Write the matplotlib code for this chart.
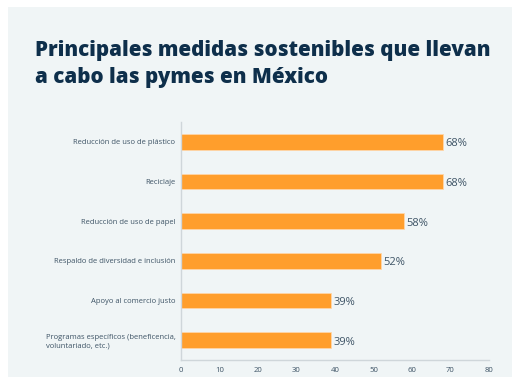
import matplotlib
matplotlib.use("Agg")
import matplotlib.pyplot as plt
from matplotlib.patches import Rectangle

categories = ["Reducción de uso de plástico", "Reciclaje", "Reducción de uso de papel",
              "Respaldo de diversidad e inclusión", "Apoyo al comercio justo",
              "Programas específicos (beneficencia,\nvoluntariado, etc.)"]
values = [68, 68, 58, 52, 39, 39]
xticks = [0, 10, 20, 30, 40, 50, 60, 70, 80]
title_lines = ["Principales medidas sostenibles que llevan", "a cabo las pymes en México"]

BG = "#f0f5f6"
ORANGE = "#ff9e2c"
NAVY = "#0e2f4b"
TEXT = "#3e5466"

plt.rcParams["font.family"] = ["Open Sans", "DejaVu Sans"]

fig = plt.figure(figsize=(5.12, 3.77), dpi=100)
fig.patch.set_facecolor("white")
fig.patches.append(Rectangle((8 / 512, 0), 1, 1 - 7 / 377, transform=fig.transFigure,
                             facecolor=BG, edgecolor="none", zorder=-10))

# two-line title, placed line by line
for i, line in enumerate(title_lines):
    fig.text(35 / 512, 1 - (56 + 27 * i) / 377, line, fontsize=14.8, fontweight="heavy",
             color=NAVY, va="baseline", ha="left")

ax = fig.add_axes([181 / 512, 1 - 360 / 377, (489 - 181) / 512, (360 - 122) / 377])
ax.set_facecolor("none")
ypos = list(range(len(categories)))
ax.barh(ypos, values, height=0.4, color=ORANGE, edgecolor="#ffd6a8", linewidth=0.6)
for y, v in zip(ypos, values):
    ax.text(v + 0.6, y + 0.05, f"{v}%", va="center", ha="left", fontsize=8, color=TEXT)

ax.set_ylim(5.5, -0.5)
ax.set_xlim(0, 80)
ax.set_xticks(xticks)
ax.set_yticks(ypos)
ax.set_yticklabels(categories, fontsize=5.5, color=TEXT)
ax.tick_params(axis="x", labelsize=5.6, colors=TEXT, length=0, pad=5)
ax.tick_params(axis="y", length=0, pad=4)
for lbl in ax.get_yticklabels():
    lbl.set_multialignment("left")
for s in ("top", "right"):
    ax.spines[s].set_visible(False)
for s in ("left", "bottom"):
    ax.spines[s].set_color("#cfd6da")
    ax.spines[s].set_linewidth(1.0)

fig.savefig("out.png", dpi=100)
